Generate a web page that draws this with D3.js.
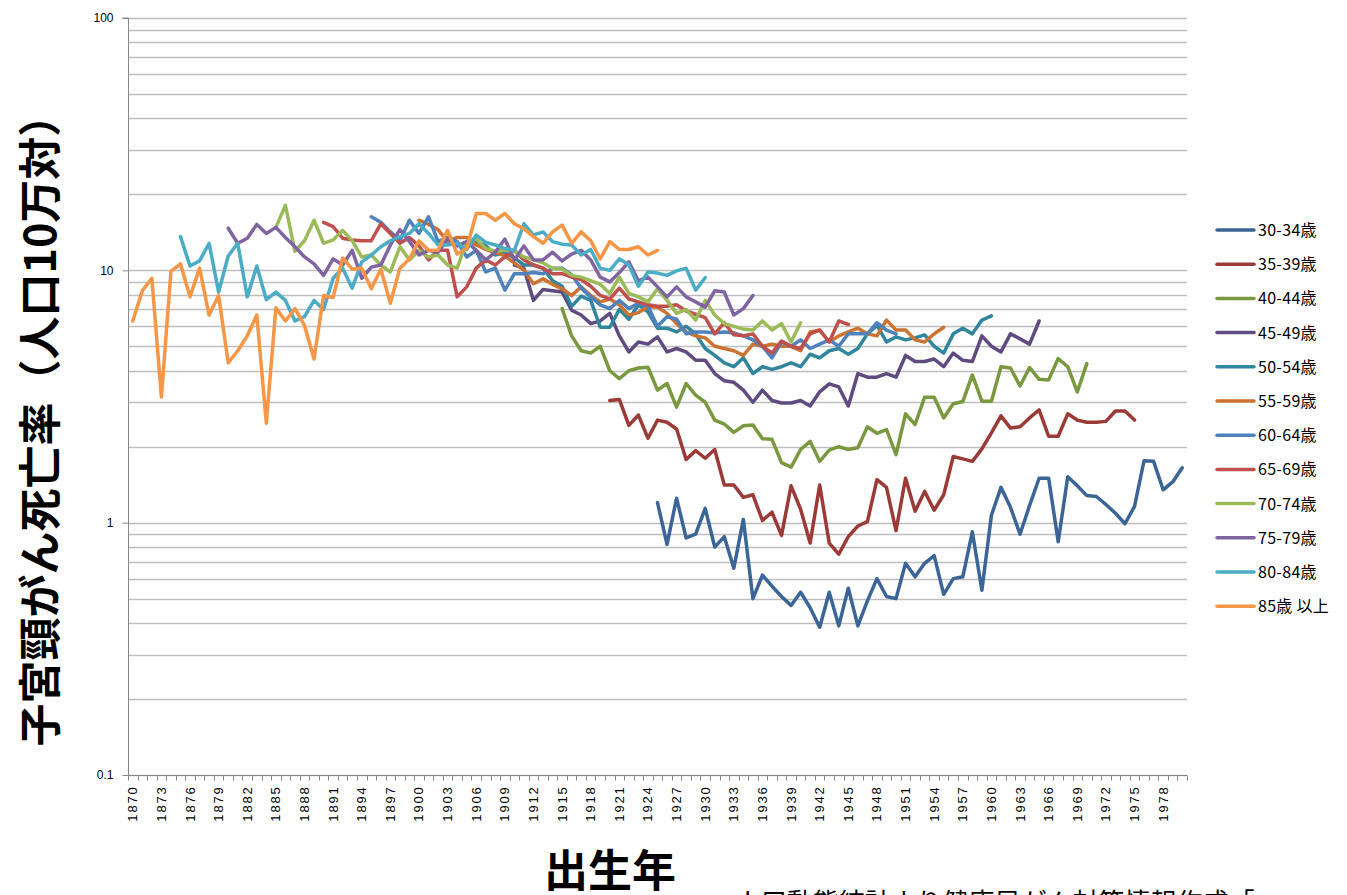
<!DOCTYPE html>
<html><head><meta charset="utf-8">
<script src="https://cdn.jsdelivr.net/npm/d3@7"></script>
<style>
html,body{margin:0;padding:0;background:#fff;overflow:hidden;}
svg{display:block;}
</style></head>
<body>
<svg id="chart" width="1347" height="895"></svg>
<script>
const years = d3.range(1870, 1981);
const tickYears = d3.range(1870, 1981, 3);
const yTicks = [0.1, 1, 10, 100];
const seriesNames = ["30-34歳","35-39歳","40-44歳","45-49歳","50-54歳","55-59歳","60-64歳","65-69歳","70-74歳","75-79歳","80-84歳","85歳 以上"];
const seriesStart = [1925,1920,1915,1910,1905,1900,1895,1890,1885,1880,1875,1870];
const seriesColors = ["#3B6596","#9B3A37","#7A983F","#5F4B80","#31859C","#CC7331","#4F81BD","#C0504D","#9BBB59","#8064A2","#4BACC6","#F79646"];

const s30 = [1.2,0.82,1.25,0.87,0.9,1.14,0.8,0.88,0.66,1.03, 0.5,0.62,0.56,0.51,0.47,0.53,0.46,0.385,0.53,0.39, 0.55,0.39,0.49,0.6,0.51,0.5,0.69,0.61,0.69,0.74, 0.52,0.6,0.61,0.92,0.54,1.07,1.38,1.15,0.9,1.17, 1.5,1.5,0.84,1.52,1.4,1.28,1.27,1.18,1.09,0.99, 1.16,1.76,1.75,1.35,1.45,1.65];
const s35 = [3.05,3.08,2.43,2.67,2.16,2.55,2.5,2.35,1.78,1.93, 1.8,1.95,1.41,1.41,1.26,1.29,1.02,1.1,0.89,1.4, 1.13,0.83,1.41,0.83,0.75,0.88,0.97,1.01,1.48,1.38, 0.93,1.5,1.11,1.33,1.12,1.29,1.83,1.79,1.75,1.96, 2.27,2.65,2.37,2.4,2.6,2.8,2.2,2.2,2.7,2.55, 2.5,2.5,2.52,2.77,2.77,2.55];
const s40 = [7.05,5.5,4.8,4.7,5.0,4.0,3.72,4.0,4.1,4.13, 3.35,3.56,2.87,3.56,3.2,3.0,2.55,2.46,2.28,2.42, 2.44,2.15,2.14,1.73,1.66,1.95,2.1,1.75,1.94,2.0, 1.95,1.98,2.4,2.26,2.34,1.86,2.7,2.45,3.14,3.14, 2.6,2.96,3.02,3.85,3.03,3.03,4.15,4.1,3.48,4.12, 3.7,3.68,4.47,4.15,3.3,4.27];
const s45 = [10.5,10.2,7.6,8.4,8.3,8.2,6.95,6.65,6.15,6.3, 6.75,5.5,4.75,5.2,5.1,5.45,4.75,4.9,4.75,4.4, 4.4,3.9,3.65,3.6,3.35,3.0,3.35,3.05,2.98,2.98, 3.05,2.9,3.3,3.55,3.45,2.9,3.9,3.77,3.77,3.9, 3.77,4.6,4.35,4.35,4.45,4.15,4.7,4.4,4.35,5.5, 5.0,4.75,5.6,5.35,5.1,6.3];
const s50 = [12.5,13.0,12.5,11.5,11.8,11.2,10.5,10.5,10.2,9.1, 8.65,7.2,7.9,7.6,5.95,5.95,7.0,6.4,7.3,6.85, 5.9,5.9,5.7,6.0,5.6,4.9,4.6,4.3,4.15,4.5, 3.9,4.15,4.05,4.15,4.3,4.15,4.65,4.5,4.8,4.9, 4.65,4.9,5.6,6.05,5.2,5.45,5.3,5.4,5.55,5.0, 4.7,5.6,5.9,5.6,6.35,6.6];
const s55 = [15.8,15.2,14.5,13.0,13.5,13.5,12.6,12.1,11.8,11.4, 10.7,10.0,8.85,9.25,8.8,8.45,7.95,8.6,7.95,7.5, 7.7,7.3,6.65,6.8,7.15,7.15,6.75,6.15,5.7,5.5, 5.4,5.0,4.9,4.8,4.6,5.1,5.0,5.1,5.0,5.0, 4.8,5.7,5.8,5.2,5.5,5.7,5.9,5.6,5.5,6.35, 5.8,5.8,5.3,5.2,5.6,5.95];
const s60 = [16.3,15.5,14.2,13.1,15.8,14.0,16.3,13.0,13.5,13.0, 11.3,12.0,9.85,10.2,8.35,9.7,9.7,9.8,9.7,10.2, 10.2,9.6,8.5,7.85,7.3,7.05,7.6,7.05,7.4,7.2, 6.0,6.55,6.4,5.6,5.7,5.7,5.65,5.7,5.65,5.5, 5.3,5.0,4.5,5.2,5.0,5.3,4.9,5.1,5.3,5.0, 5.6,5.6,5.6,6.2,5.8,5.6];
const s65 = [15.5,14.9,13.4,13.2,13.1,13.1,15.3,14.0,12.8,13.5, 12.5,11.0,12.0,12.0,7.85,8.6,10.2,11.0,10.5,11.3, 12.0,11.0,10.5,10.2,9.7,9.7,9.4,9.2,8.65,7.95, 7.7,8.5,7.7,7.5,7.3,7.2,7.2,7.3,6.9,6.7, 6.5,5.6,6.2,5.55,5.5,5.6,5.0,4.7,5.25,5.0, 4.9,5.6,5.8,5.2,6.3,6.1];
const s70 = [14.8,18.1,11.9,13.1,15.8,12.8,13.2,14.4,13.1,11.3, 11.5,10.5,9.85,12.4,11.0,12.0,11.3,11.5,10.5,10.2, 13.0,13.3,12.2,11.9,12.0,11.9,11.3,11.0,10.7,10.2, 10.1,9.55,9.4,9.1,8.8,8.1,9.4,8.1,7.85,7.5, 8.45,7.6,6.75,7.0,6.35,7.6,6.65,6.15,6.0,5.85, 5.8,6.3,5.8,6.15,5.2,6.2];
const s75 = [14.7,12.8,13.4,15.2,14.0,14.8,13.5,12.4,11.3,10.6, 9.55,11.1,10.5,12.0,9.3,10.3,10.5,12.6,14.5,13.0, 11.5,12.0,11.8,13.3,12.5,13.0,12.0,11.0,11.8,13.3, 11.0,12.5,11.0,11.0,11.8,10.9,11.6,12.0,11.0,9.4, 9.0,9.8,10.8,9.1,9.4,8.6,7.85,8.6,7.85,7.5, 7.15,8.3,8.2,6.65,7.05,7.95];
const s80 = [13.6,10.4,10.9,12.8,8.2,11.4,12.8,7.85,10.4,7.65, 8.2,7.6,6.3,6.55,7.6,7.0,9.3,10.2,8.5,10.8, 11.5,12.4,13.1,13.6,14.0,15.3,14.0,12.6,12.6,12.8, 12.1,13.8,12.9,12.6,12.2,12.0,15.3,13.8,14.2,13.0, 12.7,12.6,11.5,12.1,10.2,10.0,11.1,10.5,8.65,9.85, 9.75,9.55,9.95,10.2,8.35,9.35];
const s85 = [6.3,8.3,9.3,3.15,9.9,10.6,7.85,10.2,6.65,7.95, 4.3,4.8,5.5,6.65,2.48,7.1,6.3,7.05,6.05,4.45, 7.95,7.8,11.2,10.1,10.2,8.45,10.1,7.4,10.2,11.1, 13.1,12.0,12.0,14.4,11.6,12.2,16.8,16.8,15.8,16.8, 15.3,14.6,13.6,12.8,14.2,15.1,12.8,14.2,13.1,11.1, 13.0,12.1,12.1,12.4,11.5,12.0];
const seriesValues = [s30,s35,s40,s45,s50,s55,s60,s65,s70,s75,s80,s85];

const svg = d3.select("#chart");
const L = 128, R = 1187, T = 18, B = 775;
const x = d3.scaleBand().domain(years).range([L, R]);
const y = d3.scaleLog().domain([0.1, 100]).range([B, T]);
const cx = yr => x(yr) + x.bandwidth() / 2;

// gridlines
const grid = [];
[0.1, 1, 10].forEach(d => { for (let k = 1; k <= 9; k++) grid.push(d * k); });
grid.push(100);
svg.append("g").selectAll("line").data(grid).join("line")
  .attr("x1", L).attr("x2", R).attr("y1", d => Math.round(y(d)) + 0.5).attr("y2", d => Math.round(y(d)) + 0.5)
  .attr("stroke", "#BEBEBE").attr("stroke-width", 1.3);

// y axis
const yAxis = d3.axisLeft(y).tickValues(yTicks).tickFormat(d => String(d)).tickSize(6).tickPadding(9);
const gy = svg.append("g").attr("transform", `translate(${L + 0.5},0)`).call(yAxis);
gy.select(".domain").attr("stroke", "#868686").attr("d", `M-6,${T}H0V${B}`);
gy.selectAll(".tick line").attr("stroke", "#868686");
gy.selectAll("text").attr("font-family", "'Liberation Sans', Arial, sans-serif").attr("font-size", 12).attr("fill", "#000");

// x axis
const gx = svg.append("g").attr("transform", `translate(0,${B + 0.5})`);
gx.append("line").attr("x1", L).attr("x2", R).attr("stroke", "#868686");
const bounds = years.map(yr => x(yr)).concat([R]);
gx.selectAll("line.t").data(bounds).join("line").attr("class", "t")
  .attr("x1", d => Math.round(d) + 0.5).attr("x2", d => Math.round(d) + 0.5).attr("y1", 0).attr("y2", 5)
  .attr("stroke", "#868686");
gx.selectAll("text").data(tickYears).join("text")
  .attr("transform", d => `translate(${cx(d) + 4.5},10) rotate(-90)`)
  .attr("text-anchor", "end")
  .attr("font-family", "'Liberation Sans', Arial, sans-serif").attr("font-size", 13)
  .attr("letter-spacing", "1.8px").attr("fill", "#000")
  .text(d => d);

// lines
const line = d3.line().x(d => cx(d.year)).y(d => y(d.v));
seriesValues.forEach((vals, i) => {
  const pts = vals.map((v, j) => ({ year: seriesStart[i] + j, v }));
  svg.append("path").datum(pts).attr("d", line)
    .attr("fill", "none").attr("stroke", seriesColors[i]).attr("stroke-width", 3.5)
    .attr("stroke-linejoin", "round").attr("stroke-linecap", "round");
});

// legend
const lg = svg.append("g");
seriesNames.forEach((n, i) => {
  const ly = 230 + i * 34.2;
  lg.append("line").attr("x1", 1217).attr("x2", 1254).attr("y1", ly).attr("y2", ly)
    .attr("stroke", seriesColors[i]).attr("stroke-width", 3.5).attr("stroke-linecap", "round");
  lg.append("text").attr("x", 1258).attr("y", ly + 6).attr("font-family", "'Noto Sans CJK JP', sans-serif")
    .attr("font-size", 16).attr("letter-spacing", "0.3px").attr("fill", "#000").text(n);
});

// axis titles
svg.append("text").attr("x", 610).attr("y", 887).attr("text-anchor", "middle")
  .attr("font-family", "'Noto Sans CJK JP', sans-serif").attr("font-weight", "bold").attr("font-size", 44)
  .text("出生年");
svg.append("text").attr("transform", "translate(56,420) rotate(-90)").attr("text-anchor", "middle")
  .attr("font-family", "'Noto Sans CJK JP', sans-serif").attr("font-weight", "bold").attr("font-size", 43)
  .text("子宮頸がん死亡率（人口10万対）");
svg.append("text").attr("x", 735).attr("y", 912)
  .attr("font-family", "'Noto Sans CJK JP', sans-serif").attr("font-size", 26)
  .text("人口動態統計より健康局がん対策情報作成「");
</script>
</body></html>
